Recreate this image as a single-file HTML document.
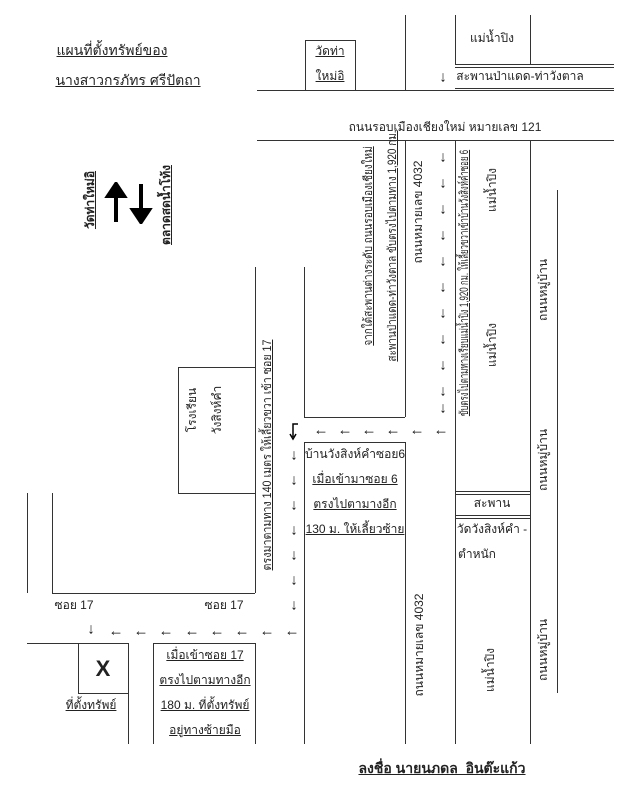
<!DOCTYPE html>
<html><head><meta charset="utf-8"><style>
html,body{margin:0;padding:0;background:#fff;}
#c{position:relative;width:634px;height:800px;overflow:hidden;font-family:"Liberation Sans","DejaVu Sans",sans-serif;font-size:12px;color:#222;}
.h{position:absolute;height:0;border-top:1.3px solid #333;}
.v{position:absolute;width:0;border-left:1.3px solid #333;}
.t{position:absolute;white-space:nowrap;transform:translate(-50%,-50%);line-height:1;}
.r{position:absolute;white-space:nowrap;transform:translate(-50%,-50%) rotate(-90deg);line-height:1;}
.u{text-decoration:underline;}
.b{font-weight:bold;}
.a{position:absolute;font-size:15px;font-weight:bold;line-height:1;transform:translate(-50%,-50%);color:#111;}
</style></head><body><div id="c">
<div class="t u" style="left:112px;top:50px;font-size:14px">แผนที่ตั้งทรัพย์ของ</div>
<div class="t u" style="left:128px;top:80px;font-size:14px">นางสาวกรภัทร ศรีปัตถา</div>
<div class="h" style="left:257px;top:90px;width:357px"></div>
<div class="v" style="left:305px;top:40px;height:50px"></div>
<div class="v" style="left:355px;top:40px;height:50px"></div>
<div class="h" style="left:305px;top:40px;width:50px"></div>
<div class="t u" style="left:330px;top:51px">วัดท่า</div>
<div class="t u" style="left:330px;top:76px">ใหม่อิ</div>
<div class="v" style="left:405px;top:15px;height:75px"></div>
<div class="v" style="left:455px;top:15px;height:49px"></div>
<div class="v" style="left:530px;top:15px;height:49px"></div>
<div class="h" style="left:455px;top:64px;width:159px"></div>
<div class="h" style="left:455px;top:67px;width:159px"></div>
<div class="h" style="left:455px;top:88px;width:159px"></div>
<div class="t" style="left:492px;top:38px">แม่น้ำปิง</div>
<div class="a" style="left:443px;top:77px">↓</div>
<div class="t" style="left:520px;top:76px">สะพานป่าแดด-ท่าวังตาล</div>
<div class="t" style="left:445px;top:127px">ถนนรอบเมืองเชียงใหม่ หมายเลข 121</div>
<div class="h" style="left:257px;top:140px;width:357px"></div>
<div class="r u b" style="left:90px;top:200px">วัดท่าใหม่อิ</div>
<div class="r u b" style="left:166px;top:205px">ตลาดสดน้ำโท้ง</div>
<svg style="position:absolute;left:104px;top:182px" width="50" height="42"><path d="M12 40V12M4 14L12 2L20 14Z" stroke="#000" stroke-width="4" fill="#000"/><path d="M37 2V30M29 28L37 40L45 28Z" stroke="#000" stroke-width="4" fill="#000"/></svg>
<div class="v" style="left:405px;top:140px;height:277px"></div>
<div class="v" style="left:304px;top:267px;height:150px"></div>
<div class="h" style="left:304px;top:417px;width:101px"></div>
<div class="r u" style="left:368px;top:246px;transform:translate(-50%,-50%) rotate(-90deg) scaleX(0.83)">จากใต้สะพานต่างระดับ ถนนรอบเมืองเชียงใหม่</div>
<div class="r u" style="left:392px;top:246px;transform:translate(-50%,-50%) rotate(-90deg) scaleX(0.83)">สะพานป่าแดด-ท่าวังตาล ขับตรงไปตามทาง 1,920 กม.</div>
<div class="r" style="left:418px;top:212px">ถนนหมายเลข 4032</div>
<div class="v" style="left:455px;top:140px;height:604px"></div>
<div class="v" style="left:530px;top:140px;height:604px"></div>
<div class="v" style="left:557px;top:190px;height:503px"></div>
<div class="r u" style="left:464px;top:283px;transform:translate(-50%,-50%) rotate(-90deg) scaleX(0.66)">ขับตรงไปตามทางเรียบแม่น้ำปิง 1,920 กม. ให้เลี้ยวขวาเข้าบ้านวังสิงห์คำซอย 6</div>
<div class="r" style="left:492px;top:190px">แม่น้ำปิง</div>
<div class="r" style="left:492px;top:345px">แม่น้ำปิง</div>
<div class="r" style="left:543px;top:290px">ถนนหมู่บ้าน</div>
<div class="r" style="left:543px;top:460px">ถนนหมู่บ้าน</div>
<div class="r" style="left:543px;top:650px">ถนนหมู่บ้าน</div>
<div class="a" style="left:443px;top:157px">↓</div>
<div class="a" style="left:443px;top:183px">↓</div>
<div class="a" style="left:443px;top:209px">↓</div>
<div class="a" style="left:443px;top:235px">↓</div>
<div class="a" style="left:443px;top:261px">↓</div>
<div class="a" style="left:443px;top:287px">↓</div>
<div class="a" style="left:443px;top:313px">↓</div>
<div class="a" style="left:443px;top:339px">↓</div>
<div class="a" style="left:443px;top:365px">↓</div>
<div class="a" style="left:443px;top:391px">↓</div>
<div class="a" style="left:443px;top:408px">↓</div>
<div class="a" style="left:441px;top:430px">←</div>
<div class="a" style="left:417px;top:430px">←</div>
<div class="a" style="left:393px;top:430px">←</div>
<div class="a" style="left:369px;top:430px">←</div>
<div class="a" style="left:345px;top:430px">←</div>
<div class="a" style="left:321px;top:430px">←</div>
<svg style="position:absolute;left:288px;top:423px" width="14" height="18"><path d="M10 1H5V14" stroke="#000" stroke-width="1.5" fill="none"/><path d="M2 11L5 16L8 11" stroke="#000" stroke-width="1.5" fill="none"/></svg>
<div class="a" style="left:294px;top:455px">↓</div>
<div class="a" style="left:294px;top:480px">↓</div>
<div class="a" style="left:294px;top:505px">↓</div>
<div class="a" style="left:294px;top:530px">↓</div>
<div class="a" style="left:294px;top:555px">↓</div>
<div class="a" style="left:294px;top:580px">↓</div>
<div class="a" style="left:294px;top:605px">↓</div>
<div class="a" style="left:292px;top:631px">←</div>
<div class="a" style="left:267px;top:631px">←</div>
<div class="a" style="left:242px;top:631px">←</div>
<div class="a" style="left:217px;top:631px">←</div>
<div class="a" style="left:192px;top:631px">←</div>
<div class="a" style="left:166px;top:631px">←</div>
<div class="a" style="left:141px;top:631px">←</div>
<div class="a" style="left:116px;top:631px">←</div>
<div class="a" style="left:91px;top:629px">↓</div>
<div class="v" style="left:255px;top:267px;height:326px"></div>
<div class="r u" style="left:267px;top:455px;transform:translate(-50%,-50%) rotate(-90deg) scaleX(0.89)">ตรงมาตามทาง 140 เมตร ให้เลี้ยวขวา เข้า ซอย 17</div>
<div class="h" style="left:178px;top:367px;width:77px"></div>
<div class="v" style="left:178px;top:367px;height:126px"></div>
<div class="h" style="left:178px;top:493px;width:77px"></div>
<div class="r" style="left:192px;top:410px">โรงเรียน</div>
<div class="r" style="left:217px;top:410px">วังสิงห์คำ</div>
<div class="v" style="left:27px;top:493px;height:100px"></div>
<div class="v" style="left:52px;top:493px;height:100px"></div>
<div class="h" style="left:52px;top:593px;width:203px"></div>
<div class="t" style="left:74px;top:605px">ซอย 17</div>
<div class="t" style="left:224px;top:605px">ซอย 17</div>
<div class="v" style="left:304px;top:442px;height:302px"></div>
<div class="h" style="left:304px;top:442px;width:101px"></div>
<div class="v" style="left:405px;top:442px;height:302px"></div>
<div class="t" style="left:355px;top:454px">บ้านวังสิงห์คำซอย6</div>
<div class="t u" style="left:355px;top:479px">เมื่อเข้ามาซอย 6</div>
<div class="t u" style="left:355px;top:504px">ตรงไปตามางอีก</div>
<div class="t u" style="left:355px;top:529px">130 ม. ให้เลี้ยวซ้าย</div>
<div class="r" style="left:419px;top:645px">ถนนหมายเลข 4032</div>
<div class="h" style="left:455px;top:491px;width:75px"></div>
<div class="h" style="left:455px;top:494px;width:75px"></div>
<div class="h" style="left:455px;top:515px;width:75px"></div>
<div class="h" style="left:455px;top:518px;width:75px"></div>
<div class="t" style="left:492px;top:503px">สะพาน</div>
<div class="t" style="left:492px;top:529px">วัดวังสิงห์คำ -</div>
<div class="t" style="left:477px;top:554px">ตำหนัก</div>
<div class="r" style="left:490px;top:670px">แม่น้ำปิง</div>
<div class="h" style="left:27px;top:643px;width:101px"></div>
<div class="v" style="left:78px;top:643px;height:50px"></div>
<div class="v" style="left:128px;top:643px;height:101px"></div>
<div class="h" style="left:78px;top:693px;width:50px"></div>
<div class="t" style="left:103px;top:669px;font-size:22px;font-weight:bold">X</div>
<div class="t u" style="left:91px;top:705px">ที่ตั้งทรัพย์</div>
<div class="v" style="left:153px;top:643px;height:101px"></div>
<div class="h" style="left:153px;top:643px;width:102px"></div>
<div class="v" style="left:255px;top:643px;height:101px"></div>
<div class="t u" style="left:205px;top:655px">เมื่อเข้าซอย 17</div>
<div class="t u" style="left:205px;top:680px">ตรงไปตามทางอีก</div>
<div class="t u" style="left:205px;top:705px">180 ม. ที่ตั้งทรัพย์</div>
<div class="t u" style="left:205px;top:730px">อยู่ทางซ้ายมือ</div>
<div class="t u b" style="left:442px;top:768px;font-size:14px">ลงชื่อ นายนภดล&nbsp; อินต๊ะแก้ว</div>
</div></body></html>
